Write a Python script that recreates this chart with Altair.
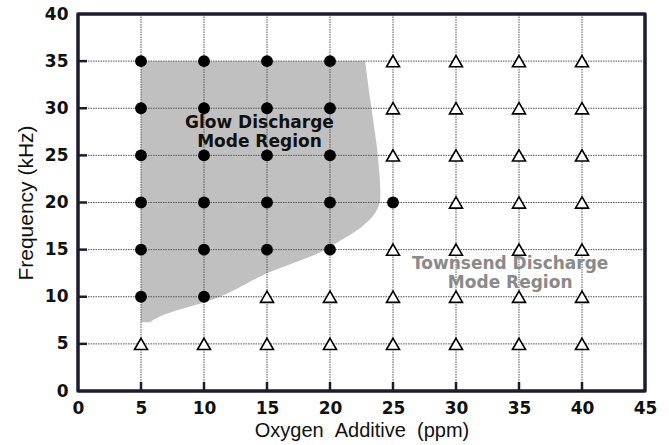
import altair as alt
import pandas as pd

# Glow discharge observations (filled circles)
glow_x = [5, 5, 5, 5, 5, 5, 10, 10, 10, 10, 10, 10, 15, 15, 15, 15, 15, 20, 20, 20, 20, 20, 25]
glow_y = [10, 15, 20, 25, 30, 35, 10, 15, 20, 25, 30, 35, 15, 20, 25, 30, 35, 15, 20, 25, 30, 35, 20]

# Townsend discharge observations (open triangles)
town_x = [5, 10, 15, 15, 20, 20, 25, 25, 25, 25, 25, 25] + [30] * 7 + [35] * 7 + [40] * 7
town_y = [5, 5, 5, 10, 5, 10, 5, 10, 15, 25, 30, 35] + [5, 10, 15, 20, 25, 30, 35] * 3

# Glow region boundary: frequency vs right-hand oxygen limit (left limit = 5 ppm)
region_y = [7.3, 7.9, 9.7, 12.6, 14.7, 16.1, 17.3, 18.9, 20.6, 24.9, 29.9, 33.8, 35.0]
region_xr = [5.7, 6.5, 10.7, 15.2, 19.2, 21.0, 22.4, 23.6, 24.0, 23.8, 23.3, 22.9, 22.8]
region_xl = [5.0] * len(region_y)

# tick values
x_ticks = [0, 5, 10, 15, 20, 25, 30, 35, 40, 45]
y_ticks = [0, 5, 10, 15, 20, 25, 30, 35, 40]
x_grid = x_ticks[1:-1]
y_grid = y_ticks[1:-1]
x_edges = [x_ticks[0], x_ticks[-1]]
y_edges = [y_ticks[0], y_ticks[-1]]

# annotations
labels_text = ["Glow Discharge\nMode Region", "Townsend Discharge\nMode Region"]
labels_x = [14.4, 34.3]
labels_y = [28.4, 13.5]
labels_color = ["#111111", "#8a8a8a"]

W, H = 567, 377
FRAME = "#1c1c30"

xs = alt.Scale(domain=[0, 45], nice=False)
ys = alt.Scale(domain=[0, 40], nice=False)

x_axis = alt.Axis(values=x_ticks, grid=False, domain=False, ticks=False,
                  labelFont="DejaVu Sans", labelFontWeight="bold", labelFontSize=17,
                  labelColor="#111111", labelPadding=9,
                  title="Oxygen\u00a0\u00a0Additive\u00a0\u00a0(ppm)", titleFont="Liberation Sans",
                  titleFontWeight="normal", titleFontSize=20, titleColor="#111111",
                  titlePadding=4, labelFlush=False)
y_axis = alt.Axis(values=y_ticks, grid=False, domain=False, ticks=False,
                  labelFont="DejaVu Sans", labelFontWeight="bold", labelFontSize=17,
                  labelColor="#111111", labelPadding=10,
                  title="Frequency (kHz)", titleFont="Liberation Sans",
                  titleFontWeight="normal", titleFontSize=21, titleColor="#111111",
                  titlePadding=8, labelFlush=False)

region_df = pd.DataFrame({"y": region_y, "xr": region_xr, "xl": region_xl})
region = alt.Chart(region_df).mark_area(orient="horizontal", color="#c0c0c0",
                                        interpolate="monotone").encode(
    y=alt.Y("y:Q", scale=ys, axis=y_axis),
    x=alt.X("xr:Q", scale=xs, axis=x_axis),
    x2="xl:Q",
)

grid_color = "#555555"
vgrid = alt.Chart(pd.DataFrame({"gx": x_grid})).mark_rule(
    color=grid_color, strokeWidth=1, strokeDash=[1.5, 1]).encode(
    x=alt.X("gx:Q", scale=xs), y=alt.value(0), y2=alt.value(H))
hgrid = alt.Chart(pd.DataFrame({"gy": y_grid})).mark_rule(
    color=grid_color, strokeWidth=1, strokeDash=[1.5, 1]).encode(
    y=alt.Y("gy:Q", scale=ys), x=alt.value(0), x2=alt.value(W))

xtick = alt.Chart(pd.DataFrame({"tx": x_grid})).mark_rule(
    color=FRAME, strokeWidth=2.5, strokeDash=[50, 1]).encode(
    x=alt.X("tx:Q", scale=xs), y=alt.value(H - 9), y2=alt.value(H))
ytick = alt.Chart(pd.DataFrame({"ty": y_grid})).mark_rule(
    color=FRAME, strokeWidth=2.5, strokeDash=[50, 1]).encode(
    y=alt.Y("ty:Q", scale=ys), x=alt.value(0), x2=alt.value(9))

vframe = alt.Chart(pd.DataFrame({"ex": x_edges})).mark_rule(
    color=FRAME, strokeWidth=3).encode(
    x=alt.X("ex:Q", scale=xs), y=alt.value(0), y2=alt.value(H))
hframe = alt.Chart(pd.DataFrame({"ey": y_edges})).mark_rule(
    color=FRAME, strokeWidth=3, strokeDash=[1000, 1]).encode(
    y=alt.Y("ey:Q", scale=ys), x=alt.value(0), x2=alt.value(W))

glow = alt.Chart(pd.DataFrame({"x": glow_x, "y": glow_y})).mark_point(
    shape="circle", filled=True, color="#000000", size=140, opacity=1).encode(
    x=alt.X("x:Q", scale=xs), y=alt.Y("y:Q", scale=ys))

town = alt.Chart(pd.DataFrame({"x": town_x, "y": town_y})).mark_point(
    shape="triangle-up", filled=True, fill="#ffffff", stroke="#000000",
    strokeWidth=1.6, size=170, opacity=1, fillOpacity=1).encode(
    x=alt.X("x:Q", scale=xs), y=alt.Y("y:Q", scale=ys))

text = alt.Chart(pd.DataFrame({"t": labels_text, "x": labels_x, "y": labels_y,
                               "c": labels_color})).mark_text(
    font="DejaVu Sans", fontWeight="bold", fontSize=17, align="center",
    baseline="middle", lineBreak="\n", lineHeight=19).encode(
    x=alt.X("x:Q", scale=xs), y=alt.Y("y:Q", scale=ys), text="t:N",
    color=alt.Color("c:N", scale=None))

chart = alt.layer(region, vgrid, hgrid, glow, town, xtick, ytick, vframe, hframe,
                  text).properties(
    width=W, height=H,
    autosize=alt.AutoSizeParams(type="none"),
    padding={"left": 78, "top": 14, "right": 24, "bottom": 54},
).configure(background="#ffffff").configure_view(stroke=FRAME, strokeWidth=3)

chart.save("out.html", embed_options={"renderer": "svg", "actions": False})
